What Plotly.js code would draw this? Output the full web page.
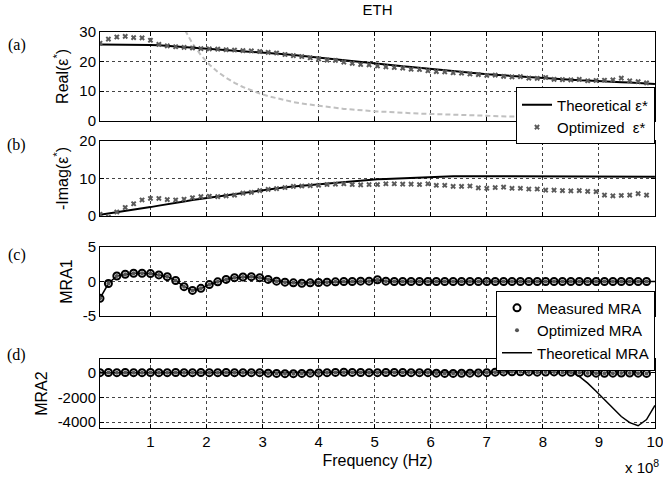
<!DOCTYPE html>
<html>
<head>
<meta charset="utf-8">
<script src="https://cdn.plot.ly/plotly-3.0.1.min.js"></script>
<style>html,body{margin:0;padding:0;background:#fff;}#chart{width:663px;height:478px;}</style>
</head>
<body>
<div id="chart"></div>
<script>
// Frequency in units of 1e8 Hz
const freq = [0.10,0.25,0.40,0.55,0.70,0.85,1.00,1.15,1.30,1.45,
  1.60,1.75,1.90,2.05,2.20,2.35,2.50,2.65,2.80,2.95,
  3.10,3.25,3.40,3.55,3.70,3.85,4.00,4.15,4.30,4.45,
  4.60,4.75,4.90,5.05,5.20,5.35,5.50,5.65,5.80,5.95,
  6.10,6.25,6.40,6.55,6.70,6.85,7.00,7.15,7.30,7.45,
  7.60,7.75,7.90,8.05,8.20,8.35,8.50,8.65,8.80,8.95,
  9.10,9.25,9.40,9.55,9.70,9.85];
const freqTheory = [0.10,0.25,0.40,0.55,0.70,0.85,1.00,1.15,1.30,1.45,
  1.60,1.75,1.90,2.05,2.20,2.35,2.50,2.65,2.80,2.95,
  3.10,3.25,3.40,3.55,3.70,3.85,4.00,4.15,4.30,4.45,
  4.60,4.75,4.90,5.05,5.20,5.35,5.50,5.65,5.80,5.95,
  6.10,6.25,6.40,6.55,6.70,6.85,7.00,7.15,7.30,7.45,
  7.60,7.75,7.90,8.05,8.20,8.35,8.50,8.65,8.80,8.95,
  9.10,9.25,9.40,9.55,9.70,9.85,10.00];
const freqGray = [1.45,1.60,1.75,1.90,2.05,2.20,2.35,2.50,2.65,2.80,
  2.95,3.10,3.25,3.40,3.55,3.70,3.85,4.00,4.15,4.30,
  4.45,4.60,4.75,4.90,5.05,5.20,5.35,5.50,5.65,5.80,
  5.95,6.10,6.25,6.40,6.55,6.70,6.85,7.00,7.15,7.30,
  7.45,7.60,7.75,7.90,8.05,8.20,8.35,8.50,8.65,8.80,
  8.95,9.10,9.25,9.40,9.55,9.70,9.85,10.00];

const realTheory = [25.8,25.8,25.8,25.8,25.8,25.7,25.6,25.5,25.3,25.1,
  24.9,24.7,24.5,24.4,24.2,24.1,23.9,23.7,23.5,23.3,
  23.1,22.8,22.5,22.2,21.9,21.6,21.3,21.0,20.6,20.3,
  20.0,19.7,19.4,19.2,18.9,18.7,18.4,18.2,17.9,17.6,
  17.3,17.1,16.8,16.5,16.2,16.0,15.7,15.5,15.3,15.1,
  14.9,14.7,14.5,14.4,14.2,14.0,13.9,13.7,13.6,13.4,
  13.3,13.2,13.0,12.9,12.7,12.6,12.4];
const realOptim = [26.2,27.6,28.3,28.5,28.1,28.0,27.2,25.8,25.3,25.0,
  24.8,24.6,24.4,24.3,24.2,24.0,23.9,23.7,23.6,23.4,
  23.1,22.9,22.4,22.0,21.7,21.3,20.9,20.5,20.4,19.8,
  19.4,19.0,18.9,18.5,18.2,18.0,17.8,17.4,17.3,16.9,
  16.6,16.5,16.2,16.1,15.8,15.6,15.3,15.4,15.0,14.8,
  14.9,14.4,14.3,14.6,14.0,13.9,13.8,14.0,13.5,13.6,
  13.7,13.8,14.4,13.5,13.2,12.8];
const realGray = [38.0,31.2,26.1,22.2,19.0,16.5,14.5,12.8,11.4,10.2,
  9.2,8.3,7.6,6.9,6.3,5.8,5.4,5.0,4.6,4.3,
  4.0,3.8,3.5,3.3,3.1,3.0,2.8,2.6,2.5,2.4,
  2.3,2.2,2.0,2.0,1.9,1.8,1.7,1.6,1.6,1.5,
  1.4,1.4,1.3,1.3,1.2,1.2,1.1,1.1,1.1,1.0,
  1.0,1.0,0.9,0.9,0.9,0.85,0.8,0.8];

const imagTheory = [0.4,0.7,1.0,1.3,1.7,2.0,2.4,2.8,3.1,3.5,
  3.9,4.3,4.6,5.0,5.3,5.6,6.0,6.3,6.6,6.9,
  7.2,7.4,7.7,7.9,8.1,8.4,8.6,8.8,9.0,9.2,
  9.3,9.5,9.7,9.8,9.9,10.0,10.1,10.2,10.3,10.4,
  10.5,10.5,10.6,10.6,10.6,10.7,10.7,10.7,10.7,10.7,
  10.7,10.7,10.7,10.7,10.7,10.7,10.7,10.7,10.7,10.7,
  10.6,10.6,10.5,10.5,10.5,10.5,10.5];
const imagOptim = [0.5,-0.3,1.1,2.3,3.3,4.3,4.7,4.7,4.4,4.3,
  4.5,4.9,5.2,5.3,5.2,5.4,5.6,6.1,6.3,6.8,
  7.1,7.3,7.6,7.9,8.0,8.1,8.2,8.4,8.5,8.6,
  8.4,8.3,8.4,8.4,8.6,8.6,8.5,8.5,8.4,8.6,
  8.2,8.2,7.9,7.9,8.0,7.5,7.4,7.6,7.7,7.4,
  7.4,7.2,7.2,6.9,6.9,6.8,6.7,6.8,6.6,6.5,
  5.6,5.4,5.5,5.6,6.0,5.6];

const mra1Measured = [-2.45,-0.3,0.8,1.05,1.2,1.2,1.15,0.95,0.7,0.15,
  -0.75,-1.3,-1.0,-0.45,-0.05,0.3,0.55,0.65,0.7,0.55,
  0.3,0.05,-0.1,-0.2,-0.25,-0.2,-0.15,-0.1,-0.05,0.0,
  0.0,0.05,0.05,0.25,0.05,0.0,0.0,0.0,0.0,0.0,
  0.0,0.0,0.0,0.0,0.0,0.0,0.0,0.0,0.0,0.0,
  0.0,0.0,0.0,0.0,0.0,0.0,0.0,0.0,0.0,0.0,
  0.0,0.0,0.0,0.0,0.0,0.0];
const mra1Optim = [-2.45,-0.3,0.8,1.05,1.2,1.2,1.15,0.95,0.7,0.15,
  -0.75,-1.3,-1.0,-0.45,-0.05,0.3,0.55,0.65,0.7,0.55,
  0.3,0.05,-0.1,-0.2,-0.25,-0.2,-0.15,-0.1,-0.05,0.0,
  0.0,0.05,0.05,0.25,0.05,0.0,0.0,0.0,0.0,0.0,
  0.0,0.0,0.0,0.0,0.0,0.0,0.0,0.0,0.0,0.0,
  0.0,0.0,0.0,0.0,0.0,0.0,0.0,0.0,0.0,0.0,
  0.0,0.0,0.0,0.0,0.0,0.0];
const mra1Theory = [-2.45,-0.3,0.8,1.05,1.2,1.2,1.15,0.95,0.7,0.15,
  -0.75,-1.3,-1.0,-0.45,-0.05,0.3,0.55,0.65,0.7,0.55,
  0.3,0.05,-0.1,-0.2,-0.25,-0.2,-0.15,-0.1,-0.05,0.0,
  0.0,0.05,0.05,0.25,0.05,0.0,0.0,0.0,0.0,0.0,
  0.0,0.0,0.0,0.0,0.0,0.0,0.0,0.0,0.0,0.0,
  0.0,0.0,0.0,0.0,0.0,0.0,0.0,0.0,0.0,0.0,
  0.0,0.0,0.0,0.0,0.0,0.0,0.0];

const mra2Measured = [0,10,0,10,0,0,10,0,0,10,
  0,0,10,0,0,10,0,0,0,0,
  -40,-60,-80,-80,-60,-40,-20,0,20,30,
  20,10,0,0,10,20,10,0,0,0,
  -40,-60,-60,-50,-40,-20,0,40,60,80,
  80,60,40,50,60,40,30,0,-20,-40,
  -50,-40,-30,-30,-40,-60];
const mra2Optim = [0,10,0,10,0,0,10,0,0,10,
  0,0,10,0,0,10,0,0,0,0,
  -40,-60,-80,-80,-60,-40,-20,0,20,30,
  20,10,0,0,10,20,10,0,0,0,
  -40,-60,-60,-50,-40,-20,0,40,60,80,
  80,60,40,50,60,40,30,0,-20,-40,
  -50,-40,-30,-30,-40,-60];
const mra2Theory = [0,0,0,0,0,0,0,0,0,0,
  0,0,0,0,0,0,0,0,0,0,
  0,0,0,0,0,0,0,0,0,0,
  0,0,0,0,0,0,0,0,0,0,
  0,0,0,0,0,0,0,0,
  60,200,380,560,760,780,640,380,80,-300,
  -850,-1500,-2200,-2900,-3550,-4050,-4300,-3800,-2650];

const xTicks = [1,2,3,4,5,6,7,8,9,10];
const xTickText = ['1','2','3','4','5','6','7','8','9','10'];

const FONT = 'Liberation Sans, Arial, Helvetica, sans-serif';
const SERIF = 'Liberation Serif, Times New Roman, serif';
const GRAY_X = '#5a5a5a';
const DOT_GRAY = '#555555';

const traces = [
  {x: freqGray, y: realGray, type: 'scatter', mode: 'lines', xaxis: 'x', yaxis: 'y',
   line: {color: '#c0c0c0', width: 2, dash: '5px,3px'}, showlegend: false, hoverinfo: 'skip'},
  {x: freqTheory, y: realTheory, type: 'scatter', mode: 'lines', xaxis: 'x', yaxis: 'y',
   name: 'Theoretical ε*', line: {color: '#000', width: 2}, legend: 'legend'},
  {x: freq, y: realOptim, type: 'scatter', mode: 'markers', xaxis: 'x', yaxis: 'y',
   name: 'Optimized  ε*', marker: {symbol: 'x', size: 5, color: GRAY_X}, legend: 'legend'},
  {x: freqTheory, y: imagTheory, type: 'scatter', mode: 'lines', xaxis: 'x2', yaxis: 'y2',
   line: {color: '#000', width: 2}, showlegend: false},
  {x: freq, y: imagOptim, type: 'scatter', mode: 'markers', xaxis: 'x2', yaxis: 'y2',
   marker: {symbol: 'x', size: 5, color: GRAY_X}, showlegend: false},

  {x: freqTheory, y: mra1Theory, type: 'scatter', mode: 'lines', xaxis: 'x3', yaxis: 'y3',
   name: 'Theoretical MRA', line: {color: '#000', width: 1.5}, legend: 'legend2', legendrank: 3},
  {x: freq, y: mra1Measured, type: 'scatter', mode: 'markers', xaxis: 'x3', yaxis: 'y3',
   name: 'Measured MRA', marker: {symbol: 'circle-open', size: 7, color: '#000', line: {width: 2, color: '#111'}},
   legend: 'legend2', legendrank: 1},
  {x: freq, y: mra1Optim, type: 'scatter', mode: 'markers', xaxis: 'x3', yaxis: 'y3',
   name: 'Optimized MRA', marker: {symbol: 'circle', size: 4, color: DOT_GRAY}, legend: 'legend2', legendrank: 2},

  {x: freqTheory, y: mra2Theory, type: 'scatter', mode: 'lines', xaxis: 'x4', yaxis: 'y4',
   line: {color: '#000', width: 1.5}, showlegend: false},
  {x: freq, y: mra2Measured, type: 'scatter', mode: 'markers', xaxis: 'x4', yaxis: 'y4',
   marker: {symbol: 'circle-open', size: 7, color: '#000', line: {width: 2, color: '#111'}}, showlegend: false},
  {x: freq, y: mra2Optim, type: 'scatter', mode: 'markers', xaxis: 'x4', yaxis: 'y4',
   marker: {symbol: 'circle', size: 4, color: DOT_GRAY}, showlegend: false}
];

function xAxis(anchor, labels) {
  const ax = {
    anchor: anchor, range: [0.1, 10.001], tickmode: 'array', tickvals: xTicks, ticktext: xTickText,
    showticklabels: labels, ticklabeloverflow: 'allow',
    showgrid: true, gridcolor: '#444', griddash: 'dot', gridwidth: 1,
    showline: true, linecolor: '#000', linewidth: 1, mirror: 'ticks',
    ticks: 'inside', ticklen: 4, tickcolor: '#000', zeroline: false,
    tickfont: {family: FONT, size: 15, color: '#000'}
  };
  if (labels) {
    ax.title = {text: 'Frequency (Hz)', font: {family: FONT, size: 16, color: '#000'}, standoff: 5};
  }
  return ax;
}
function yAxis(anchor, domain, range, vals, text, title) {
  return {
    anchor: anchor, domain: domain, range: range, tickmode: 'array', tickvals: vals, ticktext: text,
    showgrid: true, gridcolor: '#444', griddash: 'dot', gridwidth: 1,
    showline: true, linecolor: '#000', linewidth: 1, mirror: 'ticks',
    ticks: 'inside', ticklen: 4, tickcolor: '#000', zeroline: false,
    tickfont: {family: FONT, size: 15, color: '#000'},
    title: {text: title, font: {family: FONT, size: 16, color: '#000'}, standoff: 6}
  };
}

function panelLabel(text, y) {
  return {text: text, xref: 'paper', yref: 'paper', x: -0.15, y: y, xanchor: 'center', yanchor: 'middle',
          showarrow: false, font: {family: SERIF, size: 16, color: '#000'}};
}

const layout = {
  width: 663, height: 478,
  margin: {l: 100, r: 8, t: 32, b: 50},
  paper_bgcolor: '#fff', plot_bgcolor: '#fff',
  font: {family: FONT, size: 15, color: '#000'},
  title: {text: 'ETH', x: 0.5, xref: 'paper', y: 0.99, yref: 'container', yanchor: 'top',
          font: {family: FONT, size: 15, color: '#000'}},
  xaxis: xAxis('y', false),
  xaxis2: xAxis('y2', false),
  xaxis3: xAxis('y3', false),
  xaxis4: xAxis('y4', true),
  yaxis: yAxis('x', [0.776, 1.0], [0, 30], [0, 10, 20, 30], ['0', '10', '20', '30'], 'Real(ε<sup>*</sup>)'),
  yaxis2: yAxis('x2', [0.535, 0.725], [0, 20], [0, 10, 20], ['0', '10', '20'], '-Imag(ε<sup>*</sup>)'),
  yaxis3: yAxis('x3', [0.283, 0.457], [-5, 5], [-5, 0, 5], ['-5', '0', '5'], 'MRA1'),
  yaxis4: yAxis('x4', [0, 0.174], [-4480, 1100], [-4000, -2000, 0], ['-4000', '-2000', '0'], 'MRA2'),
  legend: {x: 1, xanchor: 'right', y: 0.86, yanchor: 'top', bgcolor: '#fff', bordercolor: '#000',
           borderwidth: 1, font: {family: FONT, size: 15, color: '#000'}, tracegroupgap: 0},
  legend2: {x: 1, xanchor: 'right', y: 0.347, yanchor: 'top', bgcolor: '#fff', bordercolor: '#000',
            borderwidth: 1, font: {family: FONT, size: 15, color: '#000'}, tracegroupgap: 0},
  showlegend: true,
  annotations: [
    panelLabel('(a)', 0.967),
    panelLabel('(b)', 0.715),
    panelLabel('(c)', 0.437),
    panelLabel('(d)', 0.184),
    {text: 'x 10<sup>8</sup>', xref: 'paper', yref: 'paper', x: 1.01, xanchor: 'right', y: -0.096,
     yanchor: 'middle', showarrow: false, font: {family: FONT, size: 15, color: '#000'}}
  ]
};

Plotly.newPlot('chart', traces, layout, {displayModeBar: false, staticPlot: true});
</script>
</body>
</html>
